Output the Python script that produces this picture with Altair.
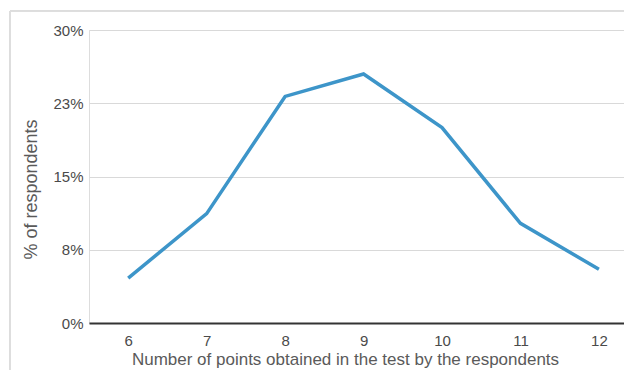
import altair as alt
import pandas as pd

points = [6, 7, 8, 9, 10, 11, 12]
pct = [4.6, 11.2, 23.2, 25.5, 20.0, 10.2, 5.5]
y_ticks = [0, 7.5, 15, 22.5, 30]
x_ticks = [6, 7, 8, 9, 10, 11, 12]

df = pd.DataFrame({"points": points, "pct": pct})

FONT = "Liberation Sans"

line = alt.Chart(df).mark_line(color="#3d95c9", strokeWidth=3.5, strokeJoin="miter").encode(
    x=alt.X(
        "points:Q",
        scale=alt.Scale(domain=[5.5, 12.32], nice=False, zero=False),
        axis=alt.Axis(
            values=x_ticks,
            grid=False,
            ticks=False,
            domain=True,
            domainColor="#333333",
            domainWidth=2,
            labelFont=FONT,
            labelFontSize=15,
            labelColor="#4a4a4a",
            labelPadding=10,
            title="Number of points obtained in the test by the respondents",
            titleFont=FONT,
            titleFontSize=17,
            titleFontWeight="normal",
            titleColor="#5a5a5a",
            titleX=256,
            titleY=41,
            titleBaseline="alphabetic",
            titleAlign="center",
        ),
    ),
    y=alt.Y(
        "pct:Q",
        scale=alt.Scale(domain=[0, 30], nice=False),
        axis=alt.Axis(
            values=y_ticks,
            labelExpr="format(round(datum.value), 'd') + '%'",
            grid=True,
            gridColor="#d9d9d9",
            gridWidth=1,
            ticks=False,
            domain=False,
            labelFont=FONT,
            labelFontSize=15,
            labelColor="#4a4a4a",
            labelPadding=6,
            title="% of respondents",
            titleFont=FONT,
            titleFontSize=18,
            titleFontWeight="normal",
            titleColor="#5a5a5a",
            titleAngle=-90,
            titleX=-58,
            titleY=159,
            titleAlign="center",
            titleBaseline="middle",
        ),
    ),
)

frame_top = alt.Chart(df).mark_rule(color="#dddddd", strokeWidth=1).encode(
    x=alt.value(-79), x2=alt.value(560), y=alt.value(-19)
)
frame_left = alt.Chart(df).mark_rule(color="#dddddd", strokeWidth=1).encode(
    x=alt.value(-79), y=alt.value(-19), y2=alt.value(360)
)

chart = alt.layer(frame_top, frame_left, line).properties(
    width=535,
    height=293,
    autosize=alt.AutoSizeParams(type="none"),
    padding={"left": 81, "top": 22, "right": 0, "bottom": 47},
).configure_view(stroke=None).configure(background="white")

chart.save("out.html", embed_options={"renderer": "svg", "actions": False})
